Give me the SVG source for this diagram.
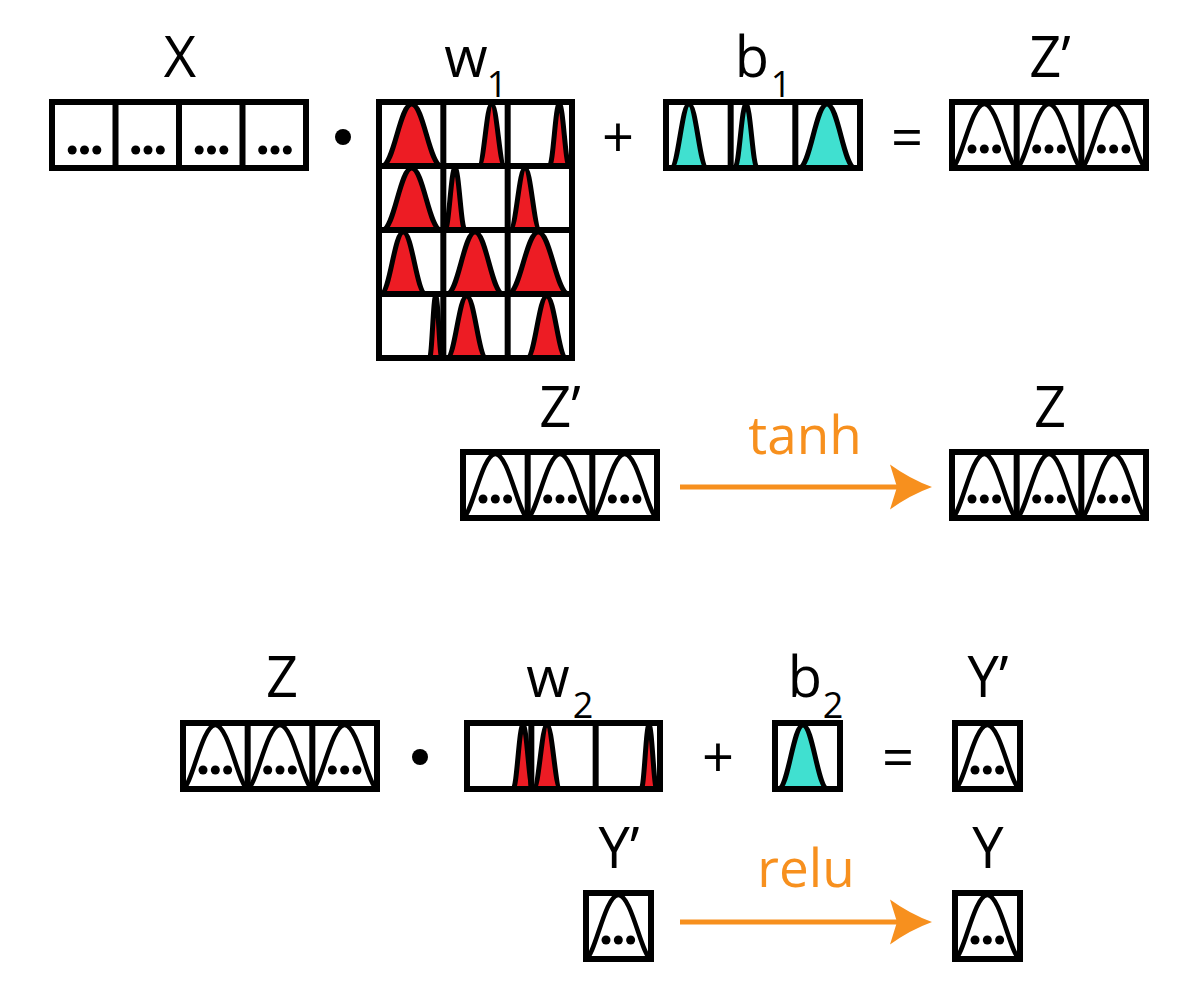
<svg xmlns="http://www.w3.org/2000/svg" width="1200" height="985" viewBox="0 0 1200 985">
<style>
.lbl{font-family:"Open Sans","Liberation Sans",sans-serif;font-size:56px;text-anchor:middle;fill:#000}
.sub{font-size:36px;fill:#000}
.fn{fill:#F7901E;font-size:53px}
.bg{fill:#fff}
.frame{fill:none;stroke:#000;stroke-width:6}
.crv{fill:none;stroke:#000;stroke-width:4.5}
.r{fill:#ED1C24;stroke:#000;stroke-width:5}
.c{fill:#40E0D0;stroke:#000;stroke-width:5}
.arr{stroke:#F7901E;stroke-width:5;fill:none}
</style>
<defs>
<g id="dots"><circle cx="-12.3" cy="0" r="4.5"/><circle cx="0" cy="0" r="4.5"/><circle cx="12.3" cy="0" r="4.5"/></g>
<g id="bell"><path class="crv" d="M0,66 C9,63 19,2 32.33,2 S55.67,63 64.67,66"/><use href="#dots" x="32.33" y="47"/></g>
<marker id="ah" markerUnits="userSpaceOnUse" viewBox="-32 -24 46 48" markerWidth="46" markerHeight="48" refX="0" refY="0" orient="auto">
<path d="M12,0 Q-10,-8 -30,-22.5 L-23,0 L-30,22.5 Q-10,8 12,0Z" fill="#F7901E"/>
</marker>
</defs>

<!-- Row 1 -->
<g id="X">
<text class="lbl" x="180" y="77">X</text>
<rect class="bg" x="52" y="102" width="254" height="66"/>
<use href="#dots" x="84.5" y="150"/><use href="#dots" x="148" y="150"/><use href="#dots" x="211.5" y="150"/><use href="#dots" x="275" y="150"/>
<path class="frame" d="M52,102h254v66h-254z M115.5,102v66 M179,102v66 M242.5,102v66"/>
</g>
<g id="op-dot-1"><circle cx="343" cy="137" r="8"/></g>
<g id="w1">
<text class="lbl" x="466" y="77">w</text><text class="lbl sub" x="497" y="97">1</text>
<rect class="bg" x="379" y="102" width="193" height="256"/>
<path class="r" d="M382,166 C393.9,166 399.8,104 411.7,104 S429.5,166 441.4,166Z"/>
<path class="r" d="M478.8,166 C484,166 486.5,104 491.7,104 S499.4,166 504.6,166Z"/>
<path class="r" d="M549.3,166 C553.3,166 555.3,104 559.3,104 S565.3,166 569.3,166Z"/>
<path class="r" d="M382.6,230 C394.2,230 400.1,168 411.7,168 S429.2,230 440.8,230Z"/>
<path class="r" d="M445,230 C449,230 451,168 455,168 S461,230 465,230Z"/>
<path class="r" d="M510.1,230 C516.1,230 519,168 525,168 S533.9,230 539.9,230Z"/>
<path class="r" d="M380.9,294 C389.9,294 394.3,232 403.3,232 S416.7,294 425.7,294Z"/>
<path class="r" d="M447,294 C458.2,294 463.8,232 475,232 S491.8,294 503,294Z"/>
<path class="r" d="M508.1,294 C520.2,294 526.2,232 538.3,232 S556.4,294 568.5,294Z"/>
<path class="r" d="M429.5,358 C432,358 433.2,296 435.7,296 S439.4,358 441.9,358Z"/>
<path class="r" d="M447.1,358 C454.9,358 458.9,296 466.7,296 S478.5,358 486.3,358Z"/>
<path class="r" d="M527.1,358 C534.9,358 538.9,296 546.7,296 S558.5,358 566.3,358Z"/>
<path class="frame" d="M379,102h193v256h-193z M443.33,102v256 M507.67,102v256 M379,166h193 M379,230h193 M379,294h193"/>
</g>
<g id="op-plus-1"><text class="lbl" x="618" y="157">+</text></g>
<g id="b1">
<text class="lbl" x="752" y="77">b</text><text class="lbl sub" x="781" y="97">1</text>
<rect class="bg" x="666" y="102" width="194" height="66"/>
<path class="c" d="M671.1,168 C678.3,168 681.8,104 689,104 S699.7,168 706.9,168Z"/>
<path class="c" d="M734.8,168 C739.3,168 741.5,104 746,104 S752.7,168 757.2,168Z"/>
<path class="c" d="M799,168 C810.2,168 815.8,104 827,104 S843.8,168 855,168Z"/>
<path class="frame" d="M666,102h194v66h-194z M730.67,102v66 M795.33,102v66"/>
</g>
<g id="op-eq-1"><text class="lbl" x="907" y="157">=</text></g>
<g id="Zp-1">
<text class="lbl" x="1050" y="77">Z’</text>
<rect class="bg" x="952" y="102" width="194" height="66"/>
<use href="#bell" x="952" y="102"/><use href="#bell" x="1016.67" y="102"/><use href="#bell" x="1081.33" y="102"/>
<path class="frame" d="M952,102h194v66h-194z M1016.67,102v66 M1081.33,102v66"/>
</g>

<!-- Row 2 -->
<g id="Zp-2">
<text class="lbl" x="560" y="427">Z’</text>
<rect class="bg" x="463" y="452" width="194" height="66"/>
<use href="#bell" x="463" y="452"/><use href="#bell" x="527.67" y="452"/><use href="#bell" x="592.33" y="452"/>
<path class="frame" d="M463,452h194v66h-194z M527.67,452v66 M592.33,452v66"/>
</g>
<g id="Z-2">
<text class="lbl" x="1050" y="427">Z</text>
<rect class="bg" x="952" y="452" width="194" height="66"/>
<use href="#bell" x="952" y="452"/><use href="#bell" x="1016.67" y="452"/><use href="#bell" x="1081.33" y="452"/>
<path class="frame" d="M952,452h194v66h-194z M1016.67,452v66 M1081.33,452v66"/>
</g>

<!-- Row 3 -->
<g id="Z-3">
<text class="lbl" x="282" y="697">Z</text>
<rect class="bg" x="183" y="723" width="194" height="66"/>
<use href="#bell" x="183" y="723"/><use href="#bell" x="247.67" y="723"/><use href="#bell" x="312.33" y="723"/>
<path class="frame" d="M183,723h194v66h-194z M247.67,723v66 M312.33,723v66"/>
</g>
<g id="op-dot-3"><circle cx="420" cy="757" r="8"/></g>
<g id="w2">
<text class="lbl" x="548" y="697">w</text><text class="lbl sub" x="583" y="718">2</text>
<rect class="bg" x="467" y="723" width="193" height="66"/>
<path class="r" d="M513,789 C517,789 519,725 523,725 S529,789 533,789Z"/>
<path class="r" d="M533.6,789 C539,789 541.6,725 547,725 S555,789 560.4,789Z"/>
<path class="r" d="M641.2,789 C644.3,789 645.9,725 649,725 S653.7,789 656.8,789Z"/>
<path class="frame" d="M467,723h193v66h-193z M531.33,723v66 M595.67,723v66"/>
</g>
<g id="op-plus-3"><text class="lbl" x="718" y="777">+</text></g>
<g id="b2">
<text class="lbl" x="805" y="697">b</text><text class="lbl sub" x="833" y="718">2</text>
<rect class="bg" x="775" y="723" width="65" height="66"/>
<path class="c" d="M778.4,789 C788.2,789 793.2,725 803,725 S817.8,789 827.6,789Z"/>
<rect class="frame" x="775" y="723" width="65" height="66"/>
</g>
<g id="op-eq-3"><text class="lbl" x="898" y="777">=</text></g>
<g id="Yp-3">
<text class="lbl" x="988" y="697">Y’</text>
<rect class="bg" x="955" y="723" width="65" height="66"/>
<use href="#bell" x="955" y="723"/>
<rect class="frame" x="955" y="723" width="65" height="66"/>
</g>

<!-- Row 4 -->
<g id="Yp-4">
<text class="lbl" x="619" y="868">Y’</text>
<rect class="bg" x="586" y="893" width="65" height="66"/>
<use href="#bell" x="586" y="893"/>
<rect class="frame" x="586" y="893" width="65" height="66"/>
</g>
<g id="Y-4">
<text class="lbl" x="988" y="868">Y</text>
<rect class="bg" x="955" y="893" width="65" height="66"/>
<use href="#bell" x="955" y="893"/>
<rect class="frame" x="955" y="893" width="65" height="66"/>
</g>

<!-- Connectors -->
<g id="connectors">
<line class="arr" x1="680" y1="487" x2="920" y2="487" marker-end="url(#ah)"/>
<text class="lbl fn" x="805" y="454">tanh</text>
<line class="arr" x1="680" y1="922" x2="920" y2="922" marker-end="url(#ah)"/>
<text class="lbl fn" x="806" y="887">relu</text>
</g>
</svg>
